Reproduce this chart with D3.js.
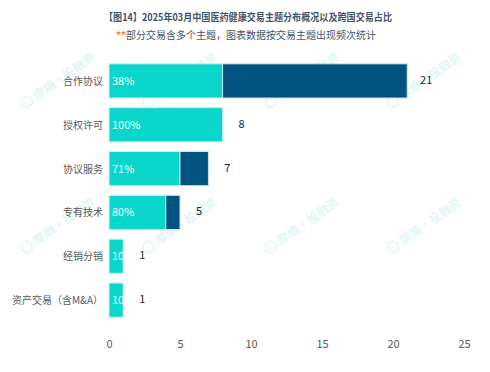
<!DOCTYPE html>
<html><head><meta charset="utf-8">
<script src="https://cdn.jsdelivr.net/npm/d3@7"></script>
<style>
html,body{margin:0;padding:0;background:#fff;}
text{font-family:"Noto Sans CJK SC","Noto Sans",sans-serif;}
</style></head>
<body><svg id="c" width="490" height="372"></svg>
<script>
const titleText = "【图14】2025年03月中国医药健康交易主题分布概况以及跨国交易占比";
const subtitleText = "部分交易含多个主题，图表数据按交易主题出现频次统计";
const categories = ["合作协议","授权许可","协议服务","专有技术","经销分销","资产交易（含M&A）"];
const domesticValues = [8,8,5,4,1,1];
const crossBorderValues = [13,0,2,1,0,0];
const shareLabels = ["38%","100%","71%","80%","100%","100%"];
const xTicks = [0,5,10,15,20,25];

const svg = d3.select("#c");
const margin = {left:109, top:59};

// faint watermark
const wm = svg.append("g");
const wmCols = [58,180,302,424], wmRows = [80,225];
wmRows.forEach(wy=>wmCols.forEach(wx=>{
  const g = wm.append("g").attr("transform",`translate(${wx},${wy}) rotate(-35)`);
  g.append("path").attr("d",d3.line()(d3.range(7).map(i=>[-38+6*Math.cos(Math.PI/3*i),6*Math.sin(Math.PI/3*i)])))
   .attr("fill","none").attr("stroke","#e3f6f5").attr("stroke-width",1.5);
  g.append("text").attr("x",-29).attr("y",4.5).text("摩熵·投融资")
   .attr("font-size",12).attr("font-weight","bold").attr("fill","#e3f6f5");
}));

const x = d3.scaleLinear().domain([0,25]).range([margin.left, 464]);
const y = d3.scaleBand().domain(categories).range([margin.top, 322]).paddingInner(0.22).paddingOuter(0.11);

svg.append("text").attr("x",248).attr("y",21).attr("text-anchor","middle")
  .attr("font-size",10).attr("font-weight","bold").attr("fill","#44546a")
  .attr("textLength",288).attr("lengthAdjust","spacingAndGlyphs").text(titleText);
const st = svg.append("text").attr("x",246).attr("y",39).attr("text-anchor","middle")
  .attr("font-size",10).attr("fill","#44546a");
st.append("tspan").attr("fill","#ff7f27").attr("font-weight","bold").text("**");
st.append("tspan").text(subtitleText);

const data = categories.map((c,i)=>({c, a:domesticValues[i], b:crossBorderValues[i], lab:shareLabels[i], i}));
const defs = svg.append("defs");
const bars = svg.append("g");
data.forEach(d=>{
  const y0 = y(d.c), bh = y.bandwidth();
  bars.append("rect").attr("x",x(0)).attr("y",y0).attr("width",x(d.a)-x(0)).attr("height",bh)
    .attr("fill","#0bd6cc").attr("stroke","#cfeff3").attr("stroke-width",1);
  if(d.b>0) bars.append("rect").attr("x",x(d.a)).attr("y",y0).attr("width",x(d.a+d.b)-x(d.a)).attr("height",bh)
    .attr("fill","#02537f").attr("stroke","#cfe2ec").attr("stroke-width",1);
  defs.append("clipPath").attr("id","cl"+d.i).append("rect")
    .attr("x",x(0)).attr("y",y0).attr("width",x(d.a)-x(0)).attr("height",bh);
  bars.append("text").attr("clip-path",`url(#cl${d.i})`).attr("x",x(0)+3).attr("y",y0+bh/2+4)
    .attr("font-size",11).attr("fill","#ffffff").text(d.lab);
  bars.append("text").attr("x",x(d.a+d.b)+19).attr("y",y0+bh/2+3).attr("text-anchor","middle")
    .attr("font-size",11).attr("fill","#262626").text(d.a+d.b);
  svg.append("text").attr("x",103).attr("y",y0+bh/2+4).attr("text-anchor","end")
    .attr("font-size",10).attr("fill","#595959").text(d.c);
});

const ax = svg.append("g").attr("transform","translate(0,336)")
  .call(d3.axisBottom(x).tickValues(xTicks).tickSize(0).tickPadding(4));
ax.select(".domain").remove();
ax.selectAll("text").attr("font-size",11).attr("fill","#595959").attr("font-family",'"Noto Sans CJK SC","Noto Sans",sans-serif');
</script></body></html>
